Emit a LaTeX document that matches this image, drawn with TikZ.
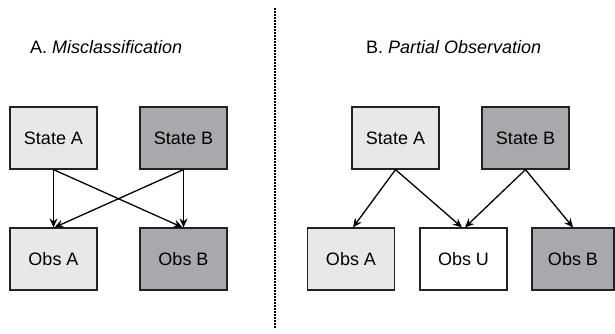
\documentclass[tikz,border=0pt]{standalone}
\usepackage{fontspec}
\setmainfont{Liberation Sans}
\usetikzlibrary{arrows.meta}
\definecolor{lightbox}{HTML}{E8E8E8}
\definecolor{darkbox}{HTML}{A8A9AC}
\definecolor{edgecol}{HTML}{222222}
\begin{document}
\begin{tikzpicture}[x=1pt,y=-1pt,
  box/.style={draw=edgecol, line width=1.2pt, minimum width=87pt, minimum height=62pt, inner sep=0pt, font=\fontsize{18}{22}\selectfont, text=black},
  lbox/.style={box, fill=lightbox},
  dbox/.style={box, fill=darkbox},
  wbox/.style={box, fill=white},
  conn/.style={draw=black, line width=1.3pt, -{Stealth[length=9pt,width=8pt]}},
  title/.style={anchor=base west, inner sep=0pt, font=\fontsize{18}{22}\selectfont, text=black}]
\useasboundingbox (0,0) rectangle (615,333);
% titles
\node[title] (ta) at (30,53) {A. \textit{Misclassification}};
\node[title] (tb) at (366,53) {B. \textit{Partial Observation}};
% divider
\coordinate (dtop) at (275,8);
\coordinate (dbot) at (275,329);
\draw[black, line width=1.2pt, dash pattern=on 2pt off 1pt] (dtop) -- (dbot);
% left panel
\node[lbox] (lsa) at (53.5,138) {State A};
\node[dbox] (lsb) at (183.5,138) {State B};
\node[lbox] (loa) at (53.5,259) {Obs A};
\node[dbox] (lob) at (183.5,259) {Obs B};
\draw[conn] (lsa.south) -- (loa.north);
\draw[conn] (lsa.south) -- ([xshift=-1pt]lob.north);
\draw[conn] (lsb.south) -- (lob.north);
\draw[conn] (lsb.south) -- ([xshift=1pt]loa.north);
% right panel
\node[lbox] (rsa) at (395.5,138) {State A};
\node[dbox] (rsb) at (525.5,138) {State B};
\node[lbox] (roa) at (351,259) {Obs A};
\node[wbox] (rou) at (463.5,259) {Obs U};
\node[dbox, minimum width=82pt] (rob) at (573,259) {Obs B};
\draw[conn] (rsa.south) -- ([xshift=2pt]roa.north);
\draw[conn] (rsa.south) -- ([xshift=-1.5pt]rou.north);
\draw[conn] (rsb.south) -- ([xshift=1.5pt]rou.north);
\draw[conn] (rsb.south) -- (rob.north);
\end{tikzpicture}
\end{document}
